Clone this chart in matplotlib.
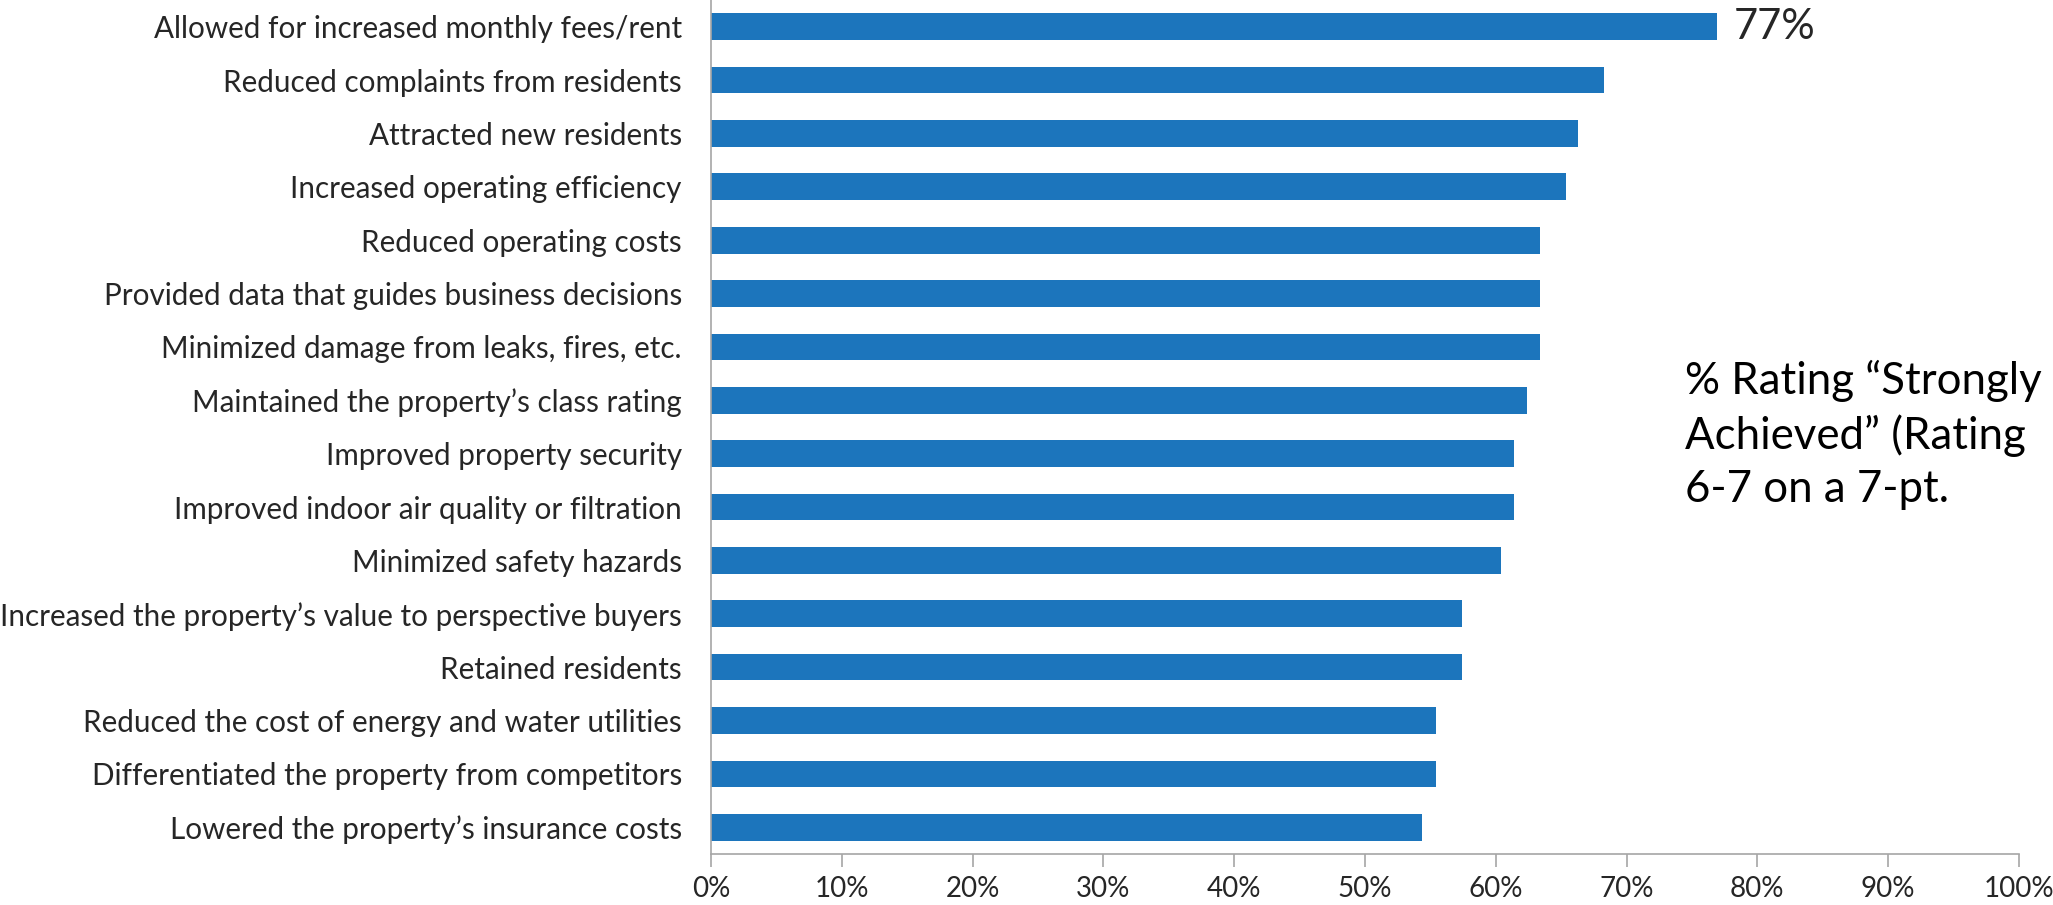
"""
  Horizontal bar chart: outcomes rated "strongly achieved".
"""

import matplotlib.pyplot as plt
from matplotlib.ticker import PercentFormatter

plt.rcParams['font.family'] = ['Lato', 'DejaVu Sans']

CATEGORIES = [
    "Allowed for increased monthly fees/rent",
    "Reduced complaints from residents",
    "Attracted new residents",
    "Increased operating efficiency",
    "Reduced operating costs",
    "Provided data that guides business decisions",
    "Minimized damage from leaks, fires, etc.",
    "Maintained the property\u2019s class rating",
    "Improved property security",
    "Improved indoor air quality or filtration",
    "Minimized safety hazards",
    "Increased the property\u2019s value to perspective buyers",
    "Retained residents",
    "Reduced the cost of energy and water utilities",
    "Differentiated the property from competitors",
    "Lowered the property\u2019s insurance costs",
]
VALUES = [76.9, 68.3, 66.3, 65.4, 63.4, 63.4, 63.4, 62.4,
          61.4, 61.4, 60.4, 57.4, 57.4, 55.4, 55.4, 54.4]
X_TICKS = list(range(0, 101, 10))
TOP_LABEL = "77%"
NOTE = "% Rating \u201cStrongly\nAchieved\u201d (Rating\n6-7 on a 7-pt."

BAR_COLOR = '#1c75bc'
AXIS_COLOR = '#a6a6a6'
TEXT_COLOR = '#262626'

fig = plt.figure(figsize=(20.53, 9.05), dpi=100)
ax = fig.add_axes([0.3463, 0.0564, 0.6371, 0.9436])

ypos = list(range(len(CATEGORIES)))
ax.barh(ypos, VALUES, height=0.5, color=BAR_COLOR)
ax.set_ylim(len(CATEGORIES) - 0.5, -0.5)
ax.set_xlim(0, 100)

ax.set_yticks(ypos)
ax.set_yticklabels(CATEGORIES, fontsize=21.3, color=TEXT_COLOR)
ax.tick_params(axis='y', length=0, pad=21)

ax.set_xticks(X_TICKS)
ax.xaxis.set_major_formatter(PercentFormatter(decimals=0))
ax.tick_params(axis='x', length=9, width=1.2, color=AXIS_COLOR,
               labelsize=20, labelcolor=TEXT_COLOR, pad=7)

for side in ['top', 'right']:
    ax.spines[side].set_visible(False)
for side in ['left', 'bottom']:
    ax.spines[side].set_color(AXIS_COLOR)
    ax.spines[side].set_linewidth(1.2)

# value label on the top bar only
ax.text(VALUES[0] + 1.3, 0, TOP_LABEL, va='center', ha='left',
        fontsize=30, color=TEXT_COLOR)

ax.text(0.7446, 0.4906, NOTE, transform=ax.transAxes, va='center', ha='left',
        fontsize=31.5, color='black', linespacing=1.36, clip_on=False)

fig.savefig('out.png', dpi=100)
